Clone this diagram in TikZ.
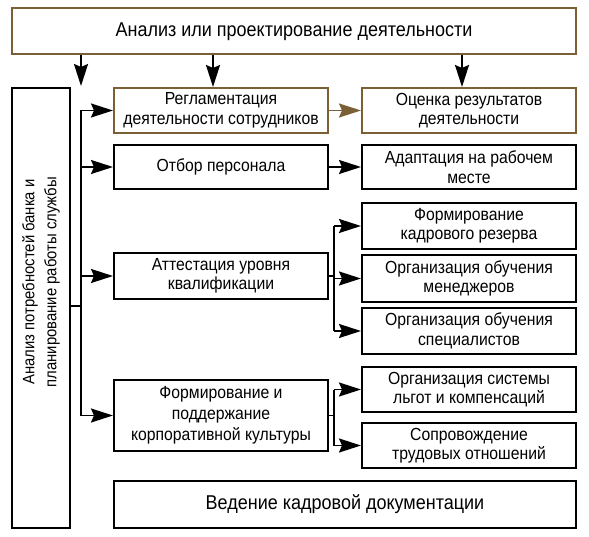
\documentclass[tikz,border=0pt]{standalone}
\usepackage{fontspec}
\setmainfont{Liberation Sans}[FakeStretch=0.9]
\usepackage{tikz}
\usetikzlibrary{arrows.meta}
\definecolor{brownline}{RGB}{122,96,52}

\begin{document}
\begin{tikzpicture}[x=1pt,y=-1pt,
		box/.style = {draw=black,line width=2pt,inner sep=0pt,align=center,font=\fontsize{17.5}{19.5}\selectfont},
		bbox/.style = {box,draw=brownline},
		wline/.style = {line width=1.8pt},
		post/.style = {wline,-{Stealth[length=22pt,width=14pt,inset=3pt]}}]
		\useasboundingbox (0,0) rectangle (589,537);
		% top and left blocks
		\node[bbox,minimum width=564pt,minimum height=46pt,font=\fontsize{20}{22}\selectfont] (Top) at (294,31.5) {Анализ или проектирование деятельности};
		\node[box,minimum width=58pt,minimum height=440pt] (Need) at (41,308) {};
		\node[rotate=90,align=center,font=\fontsize{16.5}{22}\selectfont] at (41,282) {Анализ потребностей банка и\\планирование работы службы};
		% middle column
		\node[bbox,minimum width=214pt,minimum height=45pt] (Regl) at (221,110.5) {Регламентация\\деятельности сотрудников};
		\node[box,minimum width=214pt,minimum height=44pt] (Otbor) at (221,167) {Отбор персонала};
		\node[box,minimum width=214pt,minimum height=46pt] (Attest) at (221,276) {Аттестация уровня\\квалификации};
		\node[box,minimum width=214pt,minimum height=71pt,font=\fontsize{17.5}{21}\selectfont] (Korp) at (221,415.5) {Формирование и\\поддержание\\корпоративной культуры};
		\node[box,minimum width=462pt,minimum height=47pt,font=\fontsize{20}{22}\selectfont] (Doc) at (345,504.5) {Ведение кадровой документации};
		% right column
		\node[bbox,minimum width=214pt,minimum height=45pt] (Ocenka) at (469,110.5) {Оценка результатов\\деятельности};
		\node[box,minimum width=214pt,minimum height=44pt] (Adapt) at (469,167) {Адаптация на рабочем\\месте};
		\node[box,minimum width=214pt,minimum height=46pt] (Rezerv) at (469,226) {Формирование\\кадрового резерва};
		\node[box,minimum width=214pt,minimum height=47pt] (ObMen) at (469,278.5) {Организация обучения\\менеджеров};
		\node[box,minimum width=214pt,minimum height=46pt] (ObSpec) at (469,331) {Организация обучения\\специалистов};
		\node[box,minimum width=214pt,minimum height=45pt] (Lgoty) at (469,389.5) {Организация системы\\льгот и компенсаций};
		\node[box,minimum width=214pt,minimum height=45pt] (Soprov) at (469,445.5) {Сопровождение\\трудовых отношений};
		% bus lines
		\coordinate (BusL) at (81,306);
		\coordinate (BusA) at (334,276);
		\coordinate (BusK) at (334,415.5);
		\coordinate (TopL) at (81,86);
		%\draw[help lines] (0,0) grid[step=50pt] (589,537);
		\draw[post] (Top.south -| TopL) -- (TopL);
		\draw[post] ([xshift=-8pt]Top.south -| Regl) -- ([xshift=-8pt]Regl.north);
		\draw[post] ([xshift=-7pt]Top.south -| Ocenka) -- ([xshift=-7pt]Ocenka.north);
		\draw[wline] (Need.east |- BusL) -- (BusL);
		\draw[wline] (Regl.west -| BusL) -- (Korp.west -| BusL);
		\draw[post] (Regl.west -| BusL) -- (Regl.west);
		\draw[post] (Otbor.west -| BusL) -- (Otbor.west);
		\draw[post] (Attest.west -| BusL) -- (Attest.west);
		\draw[post] (Korp.west -| BusL) -- (Korp.west);
		\draw[post,draw=brownline,fill=brownline] (Regl.east) -- (Ocenka.west);
		\draw[post] (Otbor.east) -- (Adapt.west);
		{
			\draw[wline] (Attest.east) -- (BusA);
			\draw[wline] (Rezerv.west -| BusA) -- (ObSpec.west -| BusA);
			\draw[post] (Rezerv.west -| BusA) -- (Rezerv.west);
			\draw[post] (ObMen.west -| BusA) -- (ObMen.west);
			\draw[post] (ObSpec.west -| BusA) -- (ObSpec.west);
		}
		{
			\draw[wline] (Korp.east) -- (BusK);
			\draw[wline] (Lgoty.west -| BusK) -- (Soprov.west -| BusK);
			\draw[post] (Lgoty.west -| BusK) -- (Lgoty.west);
			\draw[post] (Soprov.west -| BusK) -- (Soprov.west);
		}
	\end{tikzpicture}
\end{document}
